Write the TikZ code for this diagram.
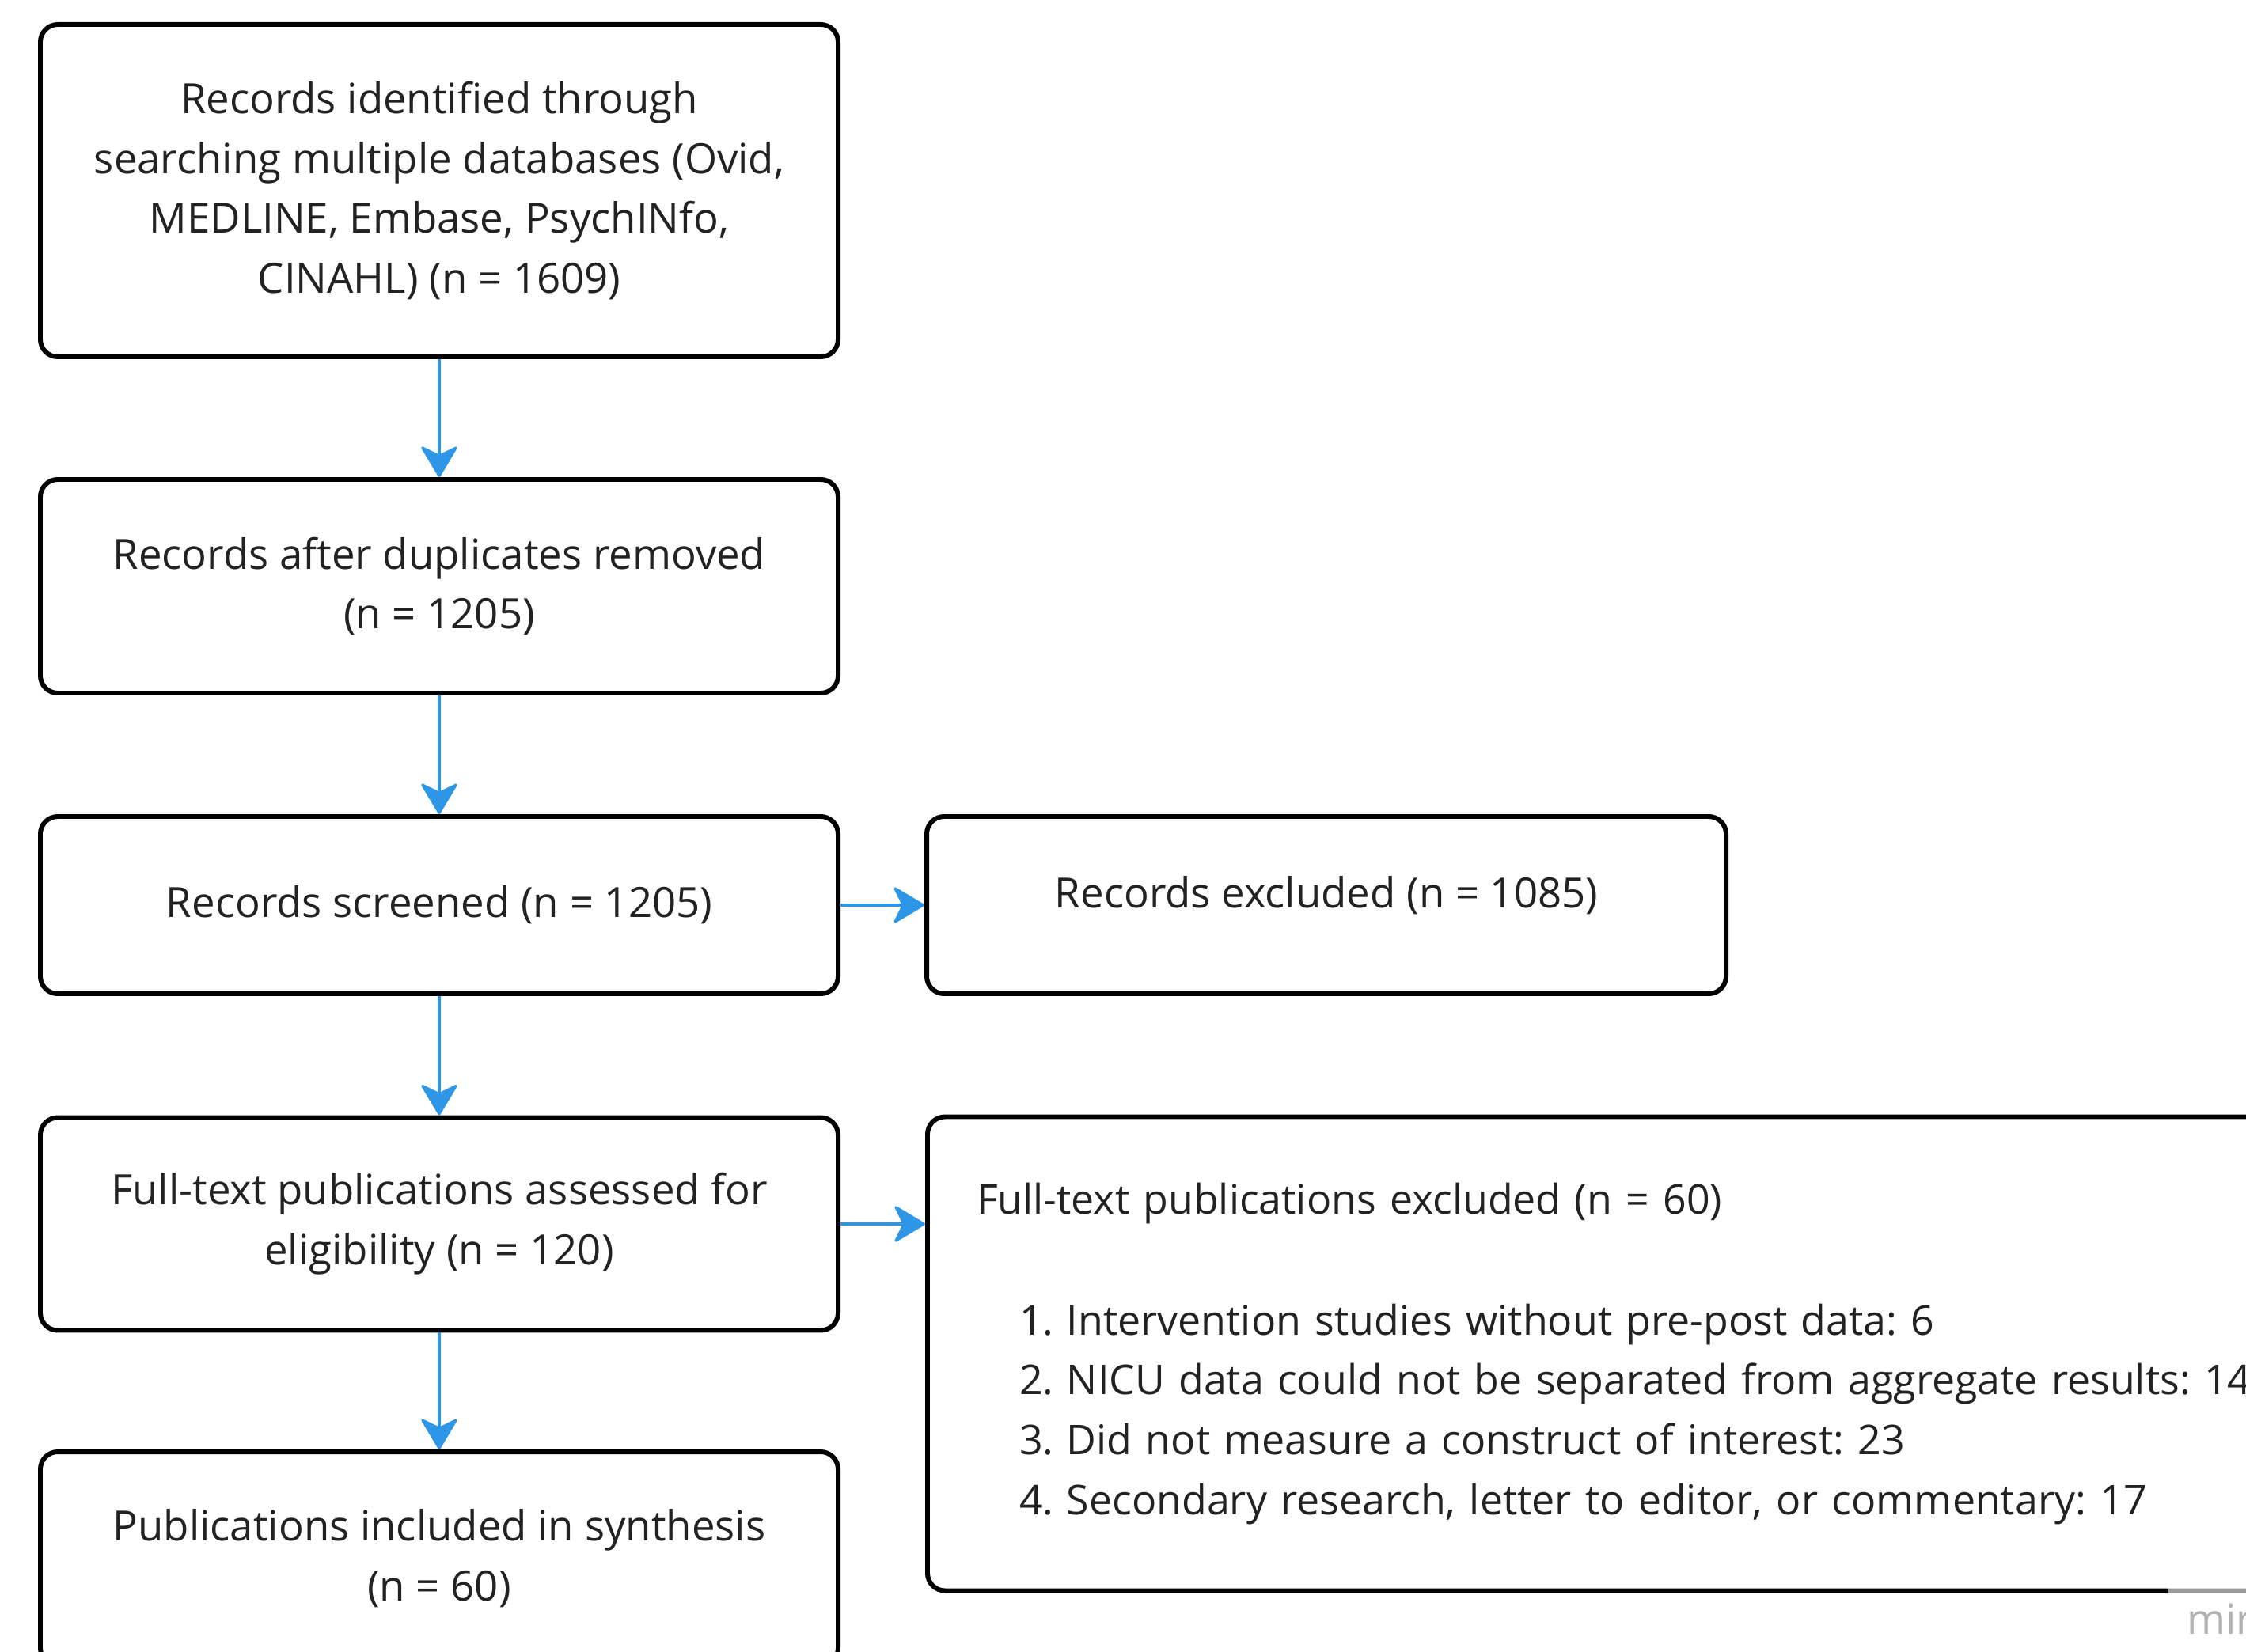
\documentclass[tikz,border=0pt]{standalone}
\usepackage{fontspec}
\setmainfont{Open Sans}
\usepackage{tikz}
\usetikzlibrary{arrows.meta,positioning}

\definecolor{flowblue}{HTML}{2E96E6}
\definecolor{inktext}{HTML}{222222}
\frenchspacing

\begin{document}
\begin{tikzpicture}[
    line width=0.9pt,
    stage/.style={draw=black, line width=1.7pt, rounded corners=0.22cm, inner sep=0pt,
        minimum width=10.08cm, align=center, text=inktext,
        font=\fontsize{15pt}{21.6pt}\selectfont},
    flow/.style={draw=flowblue, line width=0.9pt,
        -{Stealth[length=0.42cm, width=0.5cm, inset=0.12cm, round]}}
]
    \useasboundingbox (0,0) rectangle (28.38,-20.88);
    \clip (0,0) rectangle (28.38,-20.88);

    % main column
    \node[stage, minimum height=4.20cm] (ident) at (5.55,-2.41)
        {Records identified through\\searching multiple databases (Ovid,\\MEDLINE, Embase, PsychINfo,\\CINAHL) (n = 1609)};
    \node[stage, minimum height=2.70cm] (dedup) at (5.55,-7.41)
        {Records after duplicates removed\\(n = 1205)};
    \node[stage, minimum height=2.24cm] (screen) at (5.55,-11.44)
        {Records screened (n = 1205)};
    \node[stage, minimum height=2.69cm] (fulltext) at (5.55,-15.47)
        {Full-text publications assessed for\\eligibility (n = 120)};
    \node[stage, minimum height=2.70cm] (incl) at (5.55,-19.70)
        {Publications included in synthesis\\(n = 60)};

    % exclusions
    \node[stage, minimum width=10.10cm, minimum height=2.24cm] (screenex) at (16.76,-11.44)
        {\raisebox{0.34cm}{Records excluded (n = 1085)}};
    \node[stage, minimum width=18.29cm, minimum height=5.99cm, align=left,
        anchor=west, text width=17.05cm, inner xsep=0.62cm,
        font=\fontsize{14.75pt}{21.6pt}\selectfont] (fullex) at (11.69,-17.11)
        {\raisebox{0.03cm}{Full-text publications excluded (n = 60)}\\[0.74cm]
         \hspace*{0.54cm}\makebox[0.6cm][l]{1.}Intervention studies without pre-post data: 6\\
         \hspace*{0.54cm}\makebox[0.6cm][l]{2.}NICU data could not be separated from aggregate results: 14\\
         \hspace*{0.54cm}\makebox[0.6cm][l]{3.}Did not measure a construct of interest: 23\\
         \hspace*{0.54cm}\makebox[0.6cm][l]{4.}Secondary research, letter to editor, or commentary: 17};

    \draw[flow] (ident) -- (dedup);
    \draw[flow] (dedup) -- (screen);
    \draw[flow] (screen) -- (fulltext);
    \draw[flow] (fulltext) -- (incl);
    \draw[flow] (screen.east) -- (screenex.west);
    \draw[flow] (fulltext.east) -- (fulltext.east -| fullex.west);

    % watermark
    \node[fill=white, fill opacity=0.6, text opacity=1, text=black!30, anchor=north west,
        inner sep=0pt, minimum width=1.2cm, minimum height=1cm,
        font=\fontsize{15pt}{18pt}\selectfont] (mark) at (27.37,-19.95)
        {\hspace*{0.25cm}miro};
\end{tikzpicture}
\end{document}
